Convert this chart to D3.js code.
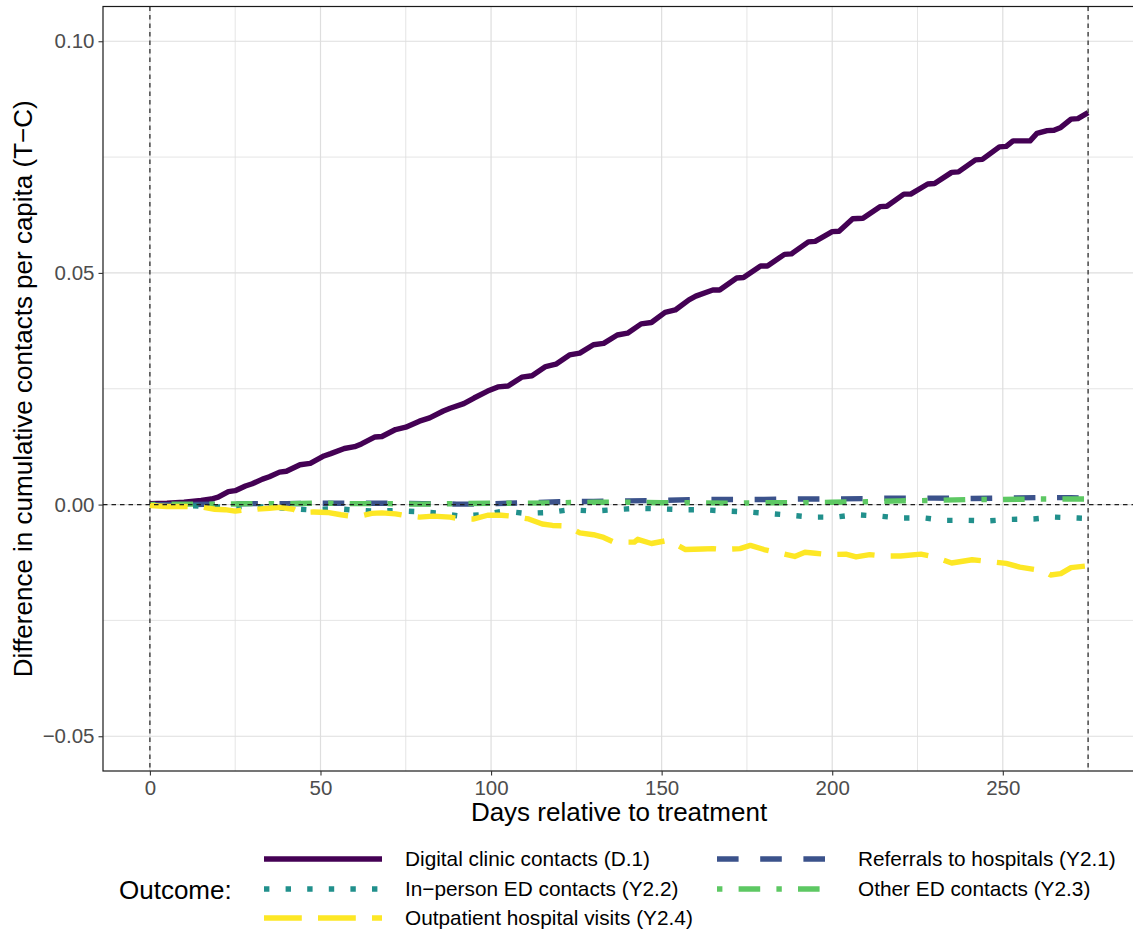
<!DOCTYPE html>
<html>
<head>
<meta charset="utf-8">
<script src="https://cdn.jsdelivr.net/npm/d3@7"></script>
<style>
  body { margin: 0; background: #fff; }
  text { font-family: "Liberation Sans", Arial, sans-serif; }
</style>
</head>
<body>
<script>

// series (days relative to treatment, T-C difference)
let digitalDays = [0, 5, 10, 15, 18, 20, 23, 25, 28, 30, 33, 35, 38, 40, 44, 47, 51, 53, 57, 60, 62, 66, 68, 72, 75, 79, 82, 86, 88, 92, 95, 99, 102, 105, 109, 112, 116, 119, 123, 126, 130, 133, 137, 140, 144, 147, 151, 154, 158, 160, 165, 167, 172, 174, 179, 181, 186, 188, 193, 195, 200, 202, 206, 209, 214, 216, 221, 223, 228, 230, 235, 237, 242, 244, 249, 251, 253, 258, 260, 263, 265, 267, 270, 272, 275]
let digitalVals = [0.0002, 0.0003, 0.0005, 0.0009, 0.0012, 0.0016, 0.0028, 0.0030, 0.0040, 0.0045, 0.0055, 0.0060, 0.0070, 0.0072, 0.0086, 0.0089, 0.0105, 0.0110, 0.0121, 0.0125, 0.0131, 0.0146, 0.0147, 0.0162, 0.0167, 0.0180, 0.0187, 0.0202, 0.0208, 0.0218, 0.0230, 0.0245, 0.0254, 0.0256, 0.0275, 0.0278, 0.0298, 0.0303, 0.0323, 0.0327, 0.0345, 0.0348, 0.0366, 0.0370, 0.0390, 0.0393, 0.0415, 0.0420, 0.0442, 0.0450, 0.0463, 0.0463, 0.0489, 0.0490, 0.0515, 0.0515, 0.0540, 0.0541, 0.0567, 0.0568, 0.0589, 0.0590, 0.0617, 0.0618, 0.0643, 0.0644, 0.0670, 0.0670, 0.0692, 0.0693, 0.0717, 0.0718, 0.0744, 0.0745, 0.0772, 0.0773, 0.0785, 0.0785, 0.0801, 0.0807, 0.0808, 0.0814, 0.0832, 0.0833, 0.0846]

let referralDays = [0, 10, 20, 30, 40, 50, 60, 70, 80, 90, 96, 105, 110, 120, 130, 140, 150, 160, 170, 180, 190, 200, 210, 220, 230, 240, 250, 260, 270, 275]
let referralVals = [0, 0, 0.0001, 0.0002, 0.0002, 0.0003, 0.0003, 0.0003, 0.0002, 0.0001, 0.0001, 0.0003, 0.0004, 0.0006, 0.0007, 0.0008, 0.0009, 0.0011, 0.0011, 0.0011, 0.0012, 0.0012, 0.0013, 0.0014, 0.0014, 0.0013, 0.0014, 0.0015, 0.0015, 0.0014]

let inPersonDays = [0, 10, 20, 30, 40, 46, 55, 60, 65, 72, 78, 84, 91, 97, 104, 110, 117, 123, 130, 136, 143, 149, 156, 162, 169, 175, 181, 188, 194, 201, 207, 214, 220, 227, 233, 240, 246, 252, 259, 265, 272, 275]
let inPersonVals = [0, -0.0002, -0.0005, -0.0004, -0.0008, -0.0011, -0.0009, -0.0012, -0.0014, -0.0013, -0.0015, -0.0018, -0.0025, -0.0022, -0.0014, -0.0019, -0.0017, -0.0011, -0.0014, -0.0011, -0.0008, -0.0009, -0.0011, -0.0011, -0.0014, -0.0016, -0.0019, -0.0023, -0.0027, -0.0027, -0.0022, -0.0025, -0.0029, -0.0029, -0.0034, -0.0034, -0.0035, -0.0032, -0.0031, -0.0027, -0.0029, -0.0030]

let otherEdDays = [0, 10, 20, 30, 40, 50, 60, 70, 80, 90, 100, 110, 120, 130, 140, 150, 160, 170, 180, 190, 200, 210, 220, 230, 240, 250, 260, 270, 275]
let otherEdVals = [0, 0.0001, 0.0001, 0.0002, 0.0002, 0.0003, 0.0002, 0.0002, 0.0001, 0.0002, 0.0003, 0.0003, 0.0004, 0.0005, 0.0005, 0.0004, 0.0004, 0.0003, 0.0004, 0.0004, 0.0005, 0.0006, 0.0008, 0.0009, 0.0011, 0.0011, 0.0012, 0.0012, 0.0012]

let outpatientDays = [0, 5, 10, 15, 19, 22, 25, 28, 31, 35, 38, 42, 44, 48, 52, 56, 59, 62, 65, 68, 72, 75, 79, 83, 88, 91, 95, 99, 103, 106, 111, 115, 118, 122, 126, 130, 133, 136, 142, 143, 147, 152, 157, 162, 165, 168, 173, 176, 180, 183, 189, 192, 195, 199, 204, 207, 211, 215, 220, 226, 230, 235, 241, 246, 251, 255, 262, 264, 267, 270, 275]
let outpatientVals = [-0.0002, -0.0004, -0.0004, -0.0005, -0.0010, -0.0011, -0.0014, -0.0011, -0.0010, -0.0008, -0.0006, -0.0010, -0.0017, -0.0016, -0.0017, -0.0022, -0.0025, -0.0024, -0.0019, -0.0018, -0.0020, -0.0024, -0.0027, -0.0025, -0.0027, -0.0031, -0.0031, -0.0023, -0.0023, -0.0025, -0.0031, -0.0042, -0.0045, -0.0046, -0.0061, -0.0065, -0.0071, -0.0081, -0.0081, -0.0075, -0.0084, -0.0077, -0.0097, -0.0096, -0.0095, -0.0097, -0.0095, -0.0088, -0.0097, -0.0102, -0.0112, -0.0103, -0.0105, -0.0108, -0.0107, -0.0113, -0.0108, -0.0111, -0.0111, -0.0107, -0.0113, -0.0126, -0.0119, -0.0123, -0.0127, -0.0135, -0.0143, -0.0152, -0.0149, -0.0136, -0.0132]

let outcomeLabels = ['Digital clinic contacts (D.1)', 'Referrals to hospitals (Y2.1)', 'In\u2212person ED contacts (Y2.2)', 'Other ED contacts (Y2.3)', 'Outpatient hospital visits (Y2.4)']
let outcomeColors = ['#440154', '#3B528B', '#21908C', '#5DC863', '#FDE725']

let xTicks = [0, 50, 100, 150, 200, 250]
let xMinor = [25, 75, 125, 175, 225, 275]
let yTicks = [-0.05, 0, 0.05, 0.10]
let yTickLabels = ['\u22120.05', '0.00', '0.05', '0.10']
let yMinor = [-0.025, 0.025, 0.075]
let vlineDays = [0, 275]

let lw = 5.4
let dashes = ['none', `${4 * lw},${4 * lw}`, `${lw},${3 * lw}`, `${lw},${3 * lw},${4 * lw},${3 * lw}`, `${7 * lw},${3 * lw}`]

let series = [
    {days: digitalDays, vals: digitalVals},
    {days: referralDays, vals: referralVals},
    {days: inPersonDays, vals: inPersonVals},
    {days: otherEdDays, vals: otherEdVals},
    {days: outpatientDays, vals: outpatientVals},
].map((s, i) => ({
    label: outcomeLabels[i],
    color: outcomeColors[i],
    dash: dashes[i],
    points: s.days.map((d, j) => ({day: d, val: s.vals[j]}))
}))

let svgWidth = 1133
let svgHeight = 932

let panel = {left: 103, right: 1135, top: 6.5, bottom: 771}

let x = d3.scaleLinear().domain([-13.75, 288.75]).range([panel.left, panel.right])
let y = d3.scaleLinear().domain([-0.0575, 0.1075]).range([panel.bottom, panel.top])

var svg = d3.select('body')
    .append('svg')
    .attr('width', svgWidth)
    .attr('height', svgHeight)

svg.append('clipPath').attr('id', 'panel-clip')
    .append('rect')
    .attr('x', panel.left)
    .attr('y', panel.top)
    .attr('width', panel.right - panel.left)
    .attr('height', panel.bottom - panel.top)

// grid
var grid = svg.append('g').attr('class', 'grid')

grid.selectAll('.minor-x')
    .data(xMinor)
    .enter()
    .append('line')
    .attr('x1', d => x(d)).attr('x2', d => x(d))
    .attr('y1', panel.top).attr('y2', panel.bottom)
    .attr('stroke', '#dedede').attr('stroke-width', 0.8)

grid.selectAll('.minor-y')
    .data(yMinor)
    .enter()
    .append('line')
    .attr('x1', panel.left).attr('x2', panel.right)
    .attr('y1', d => y(d)).attr('y2', d => y(d))
    .attr('stroke', '#dedede').attr('stroke-width', 0.8)

grid.selectAll('.major-x')
    .data(xTicks)
    .enter()
    .append('line')
    .attr('x1', d => x(d)).attr('x2', d => x(d))
    .attr('y1', panel.top).attr('y2', panel.bottom)
    .attr('stroke', '#dedede').attr('stroke-width', 1.2)

grid.selectAll('.major-y')
    .data(yTicks)
    .enter()
    .append('line')
    .attr('x1', panel.left).attr('x2', panel.right)
    .attr('y1', d => y(d)).attr('y2', d => y(d))
    .attr('stroke', '#dedede').attr('stroke-width', 1.2)

// lines
let line = d3.line()
    .x(d => x(d.day))
    .y(d => y(d.val))

svg.append('g')
    .attr('clip-path', 'url(#panel-clip)')
    .selectAll('path')
    .data(series)
    .enter()
    .append('path')
    .attr('d', s => line(s.points))
    .attr('fill', 'none')
    .attr('stroke', s => s.color)
    .attr('stroke-width', lw)
    .attr('stroke-dasharray', s => s.dash)
    .attr('stroke-linecap', 'butt')
    .attr('stroke-linejoin', 'round')

// reference lines
var refs = svg.append('g').attr('clip-path', 'url(#panel-clip)')

refs.append('line')
    .attr('x1', panel.left).attr('x2', panel.right)
    .attr('y1', y(0)).attr('y2', y(0))
    .attr('stroke', '#1f1f1f').attr('stroke-width', 1.2)
    .attr('stroke-dasharray', '4.5,4')

refs.selectAll('.vline')
    .data(vlineDays)
    .enter()
    .append('line')
    .attr('x1', d => x(d)).attr('x2', d => x(d))
    .attr('y1', panel.top).attr('y2', panel.bottom)
    .attr('stroke', '#1f1f1f').attr('stroke-width', 1.2)
    .attr('stroke-dasharray', '4.5,4')

// panel border
svg.append('rect')
    .attr('x', panel.left).attr('y', panel.top)
    .attr('width', panel.right - panel.left)
    .attr('height', panel.bottom - panel.top)
    .attr('fill', 'none')
    .attr('stroke', '#1a1a1a')
    .attr('stroke-width', 1.2)

// axes
var xAxis = svg.append('g')
    .attr('transform', `translate(0,${panel.bottom})`)
    .call(d3.axisBottom(x).tickValues(xTicks).tickSize(4.5).tickPadding(5).tickFormat(d3.format('d')))

var yAxis = svg.append('g')
    .attr('transform', `translate(${panel.left},0)`)
    .call(d3.axisLeft(y).tickValues(yTicks).tickSize(4.5).tickPadding(4).tickFormat((d, i) => yTickLabels[i]))

for (let ax of [xAxis, yAxis]) {
    ax.select('.domain').remove()
    ax.selectAll('.tick line').attr('stroke', '#333333').attr('stroke-width', 1.1)
    ax.selectAll('.tick text')
        .attr('fill', '#4d4d4d')
        .style('font-size', '20.5px')
        .style('font-family', '"Liberation Sans", Arial, sans-serif')
}

// axis titles
svg.append('text')
    .text('Days relative to treatment')
    .attr('x', 619)
    .attr('y', 821)
    .attr('text-anchor', 'middle')
    .style('font-size', '26px')
    .attr('fill', '#000')

svg.append('text')
    .text('Difference in cumulative contacts per capita (T\u2212C)')
    .attr('transform', `translate(32,${(panel.top + panel.bottom) / 2}) rotate(-90)`)
    .attr('text-anchor', 'middle')
    .style('font-size', '26px')
    .attr('fill', '#000')

// legend
var legend = svg.append('g').attr('class', 'legend')

legend.append('text')
    .text('Outcome:')
    .attr('x', 119)
    .attr('y', 899)
    .style('font-size', '26px')
    .attr('fill', '#000')

let rowY = [859, 889, 918]
let colX = [264, 717]
let keyLen = 118

var item = legend.selectAll('.item')
    .data(series)
    .enter()
    .append('g')
    .attr('transform', (s, i) => `translate(${colX[i % 2]},${rowY[Math.floor(i / 2)]})`)

item.append('line')
    .attr('x1', 0).attr('x2', keyLen)
    .attr('y1', 0).attr('y2', 0)
    .attr('stroke', s => s.color)
    .attr('stroke-width', lw)
    .attr('stroke-dasharray', s => s.dash)

item.append('text')
    .text(s => s.label)
    .attr('x', 141)
    .attr('y', 7.4)
    .style('font-size', '20.8px')
    .attr('fill', '#000')

</script>
</body>
</html>
